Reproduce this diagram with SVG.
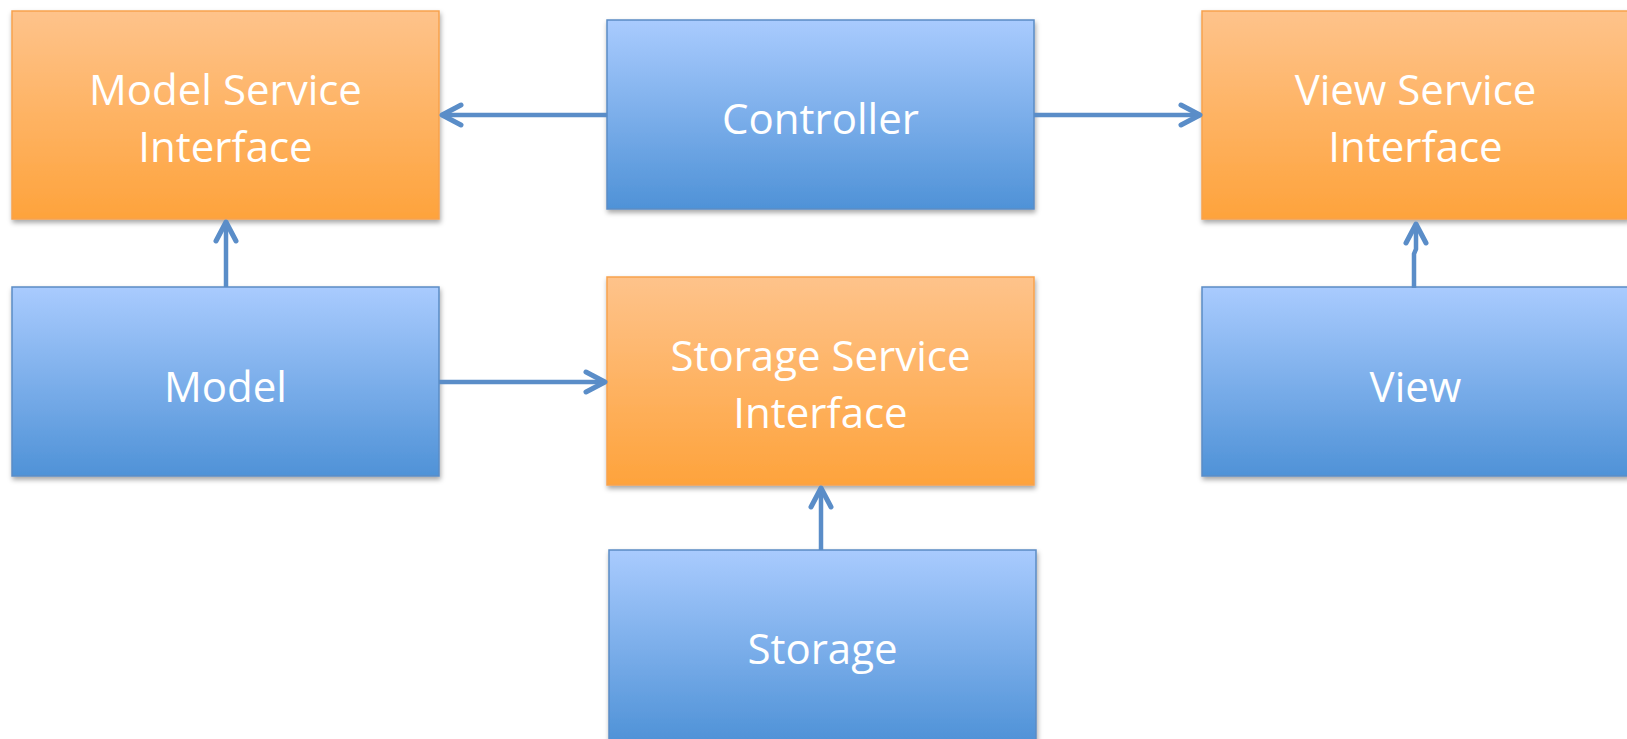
<svg xmlns="http://www.w3.org/2000/svg" width="1627" height="739" viewBox="0 0 1627 739">
<defs>
<linearGradient id="gBlue" x1="0" y1="0" x2="0" y2="1">
<stop offset="0" stop-color="#a9cbfe"/>
<stop offset="1" stop-color="#4f92d7"/>
</linearGradient>
<linearGradient id="gOrange" x1="0" y1="0" x2="0" y2="1">
<stop offset="0" stop-color="#fec38b"/>
<stop offset="1" stop-color="#fea33c"/>
</linearGradient>
<filter id="shadow" x="-5%" y="-5%" width="115%" height="120%">
<feDropShadow dx="1" dy="3" stdDeviation="2.5" flood-color="#000" flood-opacity="0.35"/>
</filter>
<marker id="arrow" markerUnits="userSpaceOnUse" markerWidth="30" markerHeight="30" viewBox="-26 -15 30 30" refX="-2" refY="0" orient="auto">
<path d="M-21,-10 L-2,0 L-21,10" fill="none" stroke="#5a8dc8" stroke-width="5" stroke-linecap="round" stroke-linejoin="round"/>
</marker>
</defs>
<style>
.blue{fill:url(#gBlue);stroke:#5b8cc5;stroke-width:1.5;filter:url(#shadow)}
.orange{fill:url(#gOrange);stroke:#f7a24d;stroke-width:1.5;filter:url(#shadow)}
.lbl{font-family:"Open Sans","Noto Sans",sans-serif;font-size:42px;fill:#ffffff;text-anchor:middle}
.conn{fill:none;stroke:#5a8dc8;stroke-width:4.5;marker-end:url(#arrow)}
</style>
<rect width="1627" height="739" fill="#ffffff"/>
<g id="model-service-interface">
<rect class="orange" x="12" y="11" width="427" height="208"/>
<text class="lbl" x="225.5" y="105">Model Service</text>
<text class="lbl" x="225.5" y="162">Interface</text>
</g>
<g id="controller">
<rect class="blue" x="607" y="20" width="427" height="189"/>
<text class="lbl" x="820.5" y="134">Controller</text>
</g>
<g id="view-service-interface">
<rect class="orange" x="1202" y="11" width="427" height="208"/>
<text class="lbl" x="1415.5" y="105">View Service</text>
<text class="lbl" x="1415.5" y="162">Interface</text>
</g>
<g id="model">
<rect class="blue" x="12" y="287" width="427" height="189"/>
<text class="lbl" x="225.5" y="402">Model</text>
</g>
<g id="storage-service-interface">
<rect class="orange" x="607" y="277" width="427" height="208"/>
<text class="lbl" x="820.5" y="371">Storage Service</text>
<text class="lbl" x="820.5" y="428">Interface</text>
</g>
<g id="view">
<rect class="blue" x="1202" y="287" width="427" height="189"/>
<text class="lbl" x="1415.5" y="402">View</text>
</g>
<g id="storage">
<rect class="blue" x="609" y="550" width="427" height="192"/>
<text class="lbl" x="822.5" y="664">Storage</text>
</g>
<g id="connectors">
<path class="conn" d="M607,115 L442,115"/>
<path class="conn" d="M1034,115 L1200,115"/>
<path class="conn" d="M226,287 L226,222"/>
<path class="conn" d="M439,382 L605,382"/>
<path class="conn" d="M821,550 L821,488"/>
<path class="conn" d="M1414,288 L1414,254 L1416,249 L1416,224"/>
</g>
</svg>
